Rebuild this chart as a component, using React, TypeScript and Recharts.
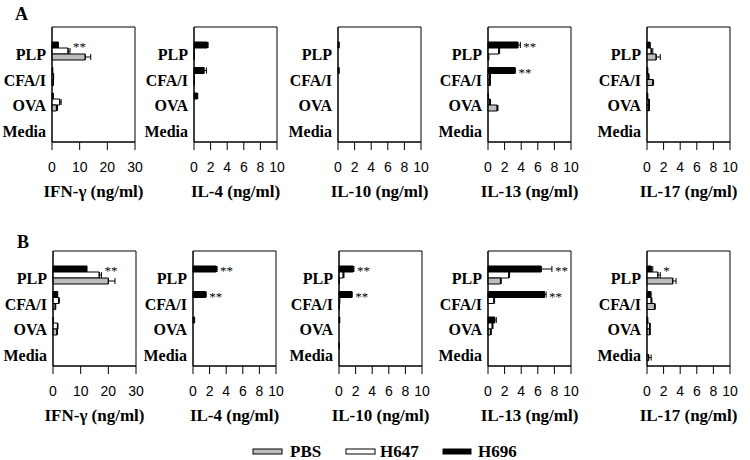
import React from "react"
import { BarChart, Bar, XAxis, YAxis, ErrorBar, LabelList, CartesianGrid } from "recharts"

const CATS = ["PLP", "CFA/I", "OVA", "Media"]
const TICKS_30 = [0, 10, 20, 30]
const TICKS_10 = [0, 2, 4, 6, 8, 10]

// ---- row A ----
const A_IFN_PBS   = [12.0, 0.4, 1.6, 0]
const A_IFN_PBS_E = [2.0, 0.1, 0.4, 0]
const A_IFN_647   = [5.8, 0.5, 2.8, 0]
const A_IFN_647_E = [0.7, 0.1, 0.5, 0]
const A_IFN_696   = [2.3, 0.3, 0.5, 0]
const A_IFN_696_E = [0, 0, 0, 0]
const A_IFN_SIG   = ["**", "", "", ""]

const A_IL4_PBS   = [0.05, 0.05, 0, 0]
const A_IL4_PBS_E = [0, 0, 0, 0]
const A_IL4_647   = [0.05, 0.05, 0, 0]
const A_IL4_647_E = [0, 0, 0, 0]
const A_IL4_696   = [1.6, 1.2, 0.4, 0]
const A_IL4_696_E = [0.1, 0.3, 0.05, 0]
const A_IL4_SIG   = ["", "", "", ""]

const A_IL10_PBS   = [0, 0, 0, 0]
const A_IL10_PBS_E = [0, 0, 0, 0]
const A_IL10_647   = [0, 0, 0, 0]
const A_IL10_647_E = [0, 0, 0, 0]
const A_IL10_696   = [0.15, 0.15, 0, 0]
const A_IL10_696_E = [0, 0, 0, 0]
const A_IL10_SIG   = ["", "", "", ""]

const A_IL13_PBS   = [0.1, 0.2, 1.1, 0]
const A_IL13_PBS_E = [0, 0.1, 0.1, 0]
const A_IL13_647   = [1.3, 0.2, 0.2, 0]
const A_IL13_647_E = [0.1, 0.1, 0.1, 0]
const A_IL13_696   = [3.6, 3.2, 0.05, 0]
const A_IL13_696_E = [0.3, 0.1, 0, 0]
const A_IL13_SIG   = ["**", "**", "", ""]

const A_IL17_PBS   = [1.1, 0.7, 0.2, 0]
const A_IL17_PBS_E = [0.5, 0.1, 0.1, 0]
const A_IL17_647   = [0.5, 0.15, 0.2, 0]
const A_IL17_647_E = [0.2, 0.1, 0.1, 0]
const A_IL17_696   = [0.3, 0.1, 0.1, 0]
const A_IL17_696_E = [0.1, 0, 0, 0]
const A_IL17_SIG   = ["", "", "", ""]

// ---- row B ----
const B_IFN_PBS   = [20.0, 0.8, 1.4, 0]
const B_IFN_PBS_E = [2.4, 0.2, 0.2, 0]
const B_IFN_647   = [16.7, 2.0, 1.6, 0]
const B_IFN_647_E = [0.8, 0.3, 0.2, 0]
const B_IFN_696   = [12.3, 1.7, 0.1, 0]
const B_IFN_696_E = [0, 0, 0, 0]
const B_IFN_SIG   = ["**", "", "", ""]

const B_IL4_PBS   = [0, 0, 0, 0]
const B_IL4_PBS_E = [0, 0, 0, 0]
const B_IL4_647   = [0, 0, 0, 0]
const B_IL4_647_E = [0, 0, 0, 0]
const B_IL4_696   = [2.8, 1.5, 0.2, 0]
const B_IL4_696_E = [0.1, 0.1, 0, 0]
const B_IL4_SIG   = ["**", "**", "", ""]

const B_IL10_PBS   = [0.05, 0.05, 0, 0]
const B_IL10_PBS_E = [0, 0, 0, 0]
const B_IL10_647   = [0.5, 0.1, 0, 0]
const B_IL10_647_E = [0.1, 0, 0, 0]
const B_IL10_696   = [1.7, 1.5, 0.1, 0.05]
const B_IL10_696_E = [0.1, 0.1, 0, 0]
const B_IL10_SIG   = ["**", "**", "", ""]

const B_IL13_PBS   = [1.5, 0, 0.3, 0]
const B_IL13_PBS_E = [0.1, 0, 0.1, 0]
const B_IL13_647   = [2.5, 0.7, 0.5, 0]
const B_IL13_647_E = [0.1, 0.1, 0.1, 0]
const B_IL13_696   = [6.4, 6.8, 0.8, 0]
const B_IL13_696_E = [1.3, 0.2, 0.2, 0]
const B_IL13_SIG   = ["**", "**", "", ""]

const B_IL17_PBS   = [3.1, 0.9, 0.3, 0.2]
const B_IL17_PBS_E = [0.4, 0.1, 0.1, 0.3]
const B_IL17_647   = [1.3, 0.5, 0.3, 0]
const B_IL17_647_E = [0.3, 0.1, 0.1, 0]
const B_IL17_696   = [0.5, 0.4, 0.1, 0]
const B_IL17_696_E = [0.2, 0.1, 0, 0]
const B_IL17_SIG   = ["*", "", "", ""]

const SERIF = "'Liberation Serif', 'Times New Roman', serif"
const SANS = "'Liberation Sans', Arial, sans-serif"
const GRAY = "#bdbdbd"

const ROW_TOP = [27, 251]
const PLOT_W = 83
const PLOT_H = 115
const Y_W = 60
const M_TOP = 5
const M_RIGHT = 25
const X_H = 62

const PANELS = [
  { row: 0, left: 52,  title: "IFN-γ (ng/ml)", max: 30, ticks: TICKS_30, pbs: A_IFN_PBS, pbsE: A_IFN_PBS_E, h647: A_IFN_647, h647E: A_IFN_647_E, h696: A_IFN_696, h696E: A_IFN_696_E, sig: A_IFN_SIG },
  { row: 0, left: 194, title: "IL-4 (ng/ml)",  max: 10, ticks: TICKS_10, pbs: A_IL4_PBS, pbsE: A_IL4_PBS_E, h647: A_IL4_647, h647E: A_IL4_647_E, h696: A_IL4_696, h696E: A_IL4_696_E, sig: A_IL4_SIG },
  { row: 0, left: 338, title: "IL-10 (ng/ml)", max: 10, ticks: TICKS_10, pbs: A_IL10_PBS, pbsE: A_IL10_PBS_E, h647: A_IL10_647, h647E: A_IL10_647_E, h696: A_IL10_696, h696E: A_IL10_696_E, sig: A_IL10_SIG },
  { row: 0, left: 488, title: "IL-13 (ng/ml)", max: 10, ticks: TICKS_10, pbs: A_IL13_PBS, pbsE: A_IL13_PBS_E, h647: A_IL13_647, h647E: A_IL13_647_E, h696: A_IL13_696, h696E: A_IL13_696_E, sig: A_IL13_SIG },
  { row: 0, left: 647, title: "IL-17 (ng/ml)", max: 10, ticks: TICKS_10, pbs: A_IL17_PBS, pbsE: A_IL17_PBS_E, h647: A_IL17_647, h647E: A_IL17_647_E, h696: A_IL17_696, h696E: A_IL17_696_E, sig: A_IL17_SIG },
  { row: 1, left: 53,  title: "IFN-γ (ng/ml)", max: 30, ticks: TICKS_30, pbs: B_IFN_PBS, pbsE: B_IFN_PBS_E, h647: B_IFN_647, h647E: B_IFN_647_E, h696: B_IFN_696, h696E: B_IFN_696_E, sig: B_IFN_SIG },
  { row: 1, left: 193, title: "IL-4 (ng/ml)",  max: 10, ticks: TICKS_10, pbs: B_IL4_PBS, pbsE: B_IL4_PBS_E, h647: B_IL4_647, h647E: B_IL4_647_E, h696: B_IL4_696, h696E: B_IL4_696_E, sig: B_IL4_SIG },
  { row: 1, left: 339, title: "IL-10 (ng/ml)", max: 10, ticks: TICKS_10, pbs: B_IL10_PBS, pbsE: B_IL10_PBS_E, h647: B_IL10_647, h647E: B_IL10_647_E, h696: B_IL10_696, h696E: B_IL10_696_E, sig: B_IL10_SIG },
  { row: 1, left: 488, title: "IL-13 (ng/ml)", max: 10, ticks: TICKS_10, pbs: B_IL13_PBS, pbsE: B_IL13_PBS_E, h647: B_IL13_647, h647E: B_IL13_647_E, h696: B_IL13_696, h696E: B_IL13_696_E, sig: B_IL13_SIG },
  { row: 1, left: 647, title: "IL-17 (ng/ml)", max: 10, ticks: TICKS_10, pbs: B_IL17_PBS, pbsE: B_IL17_PBS_E, h647: B_IL17_647, h647E: B_IL17_647_E, h696: B_IL17_696, h696E: B_IL17_696_E, sig: B_IL17_SIG },
]

type PanelDef = typeof PANELS[number]

const err = (e: number) => (e > 0 ? [0, e] : null)

function CatTick(p: any) {
  return (
    <text x={p.x} y={p.y + 4} dy="0.35em" textAnchor="end" fontFamily={SERIF} fontWeight="bold" fontSize={16} fill="#000">
      {p.payload.value}
    </text>
  )
}

// frame lines on the plot edges, so each panel gets a closed box
const frameH = ({ offset }: any) => [offset.top, offset.top + offset.height]
const frameV = ({ offset }: any) => [offset.left, offset.left + offset.width]

function Panel({ def }: { def: PanelDef }) {
  const data = CATS.map((cat, i) => ({
    cat,
    pbs: def.pbs[i], pbsE: err(def.pbsE[i]),
    h647: def.h647[i], h647E: err(def.h647E[i]),
    h696: def.h696[i], h696E: err(def.h696E[i]),
    sig: def.sig[i],
  }))

  // asterisks sit just past the end of the H696 / H647 bars
  const renderSig = (p: any) => {
    const vb = p.viewBox && p.viewBox.width !== undefined ? p.viewBox : p
    const i = p.index
    const txt = def.sig[i]
    const v = def.h696[i]
    if (!txt || !v || !vb.width) return null
    const k = vb.width / v
    const end = Math.max(v + def.h696E[i], def.h647[i] + def.h647E[i])
    return (
      <text x={vb.x + k * end + 3} y={vb.y + vb.height / 2 + 6} fontFamily={SERIF} fontSize={13} fill="#000">
        {txt}
      </text>
    )
  }

  const w = Y_W + PLOT_W + M_RIGHT
  const h = M_TOP + PLOT_H + X_H
  return (
    <div style={{ position: "absolute", left: def.left - Y_W, top: ROW_TOP[def.row] - M_TOP }}>
      <BarChart
        width={w}
        height={h}
        data={data}
        layout="vertical"
        barGap={0}
        margin={{ top: M_TOP, right: M_RIGHT, bottom: 0, left: 0 }}
      >
        <CartesianGrid
          stroke="#000"
          strokeWidth={1}
          horizontalCoordinatesGenerator={frameH}
          verticalCoordinatesGenerator={frameV}
        />
        <XAxis
          type="number"
          domain={[0, def.max]}
          ticks={def.ticks}
          interval={0}
          height={X_H}
          stroke="#000"
          tickSize={8}
          tickMargin={12}
          tick={{ fontSize: 14, fill: "#000", fontFamily: SANS }}
          label={{ value: def.title, position: "insideBottom", offset: 7, fontSize: 17, fontWeight: "bold", fontFamily: SERIF, fill: "#000" }}
        />
        <YAxis
          type="category"
          dataKey="cat"
          width={Y_W}
          stroke="#000"
          tickLine={false}
          tickSize={0}
          tickMargin={6}
          interval={0}
          padding={{ top: 11, bottom: 2 }}
          tick={<CatTick />}
        />
        <Bar dataKey="h696" fill="#000" stroke="#000" strokeWidth={1} barSize={6} isAnimationActive={false}>
          <ErrorBar dataKey="h696E" direction="x" width={3} stroke="#000" strokeWidth={1} />
          <LabelList dataKey="sig" content={renderSig} />
        </Bar>
        <Bar dataKey="h647" fill="#fff" stroke="#000" strokeWidth={1} barSize={6} isAnimationActive={false}>
          <ErrorBar dataKey="h647E" direction="x" width={3} stroke="#000" strokeWidth={1} />
        </Bar>
        <Bar dataKey="pbs" fill={GRAY} stroke="#000" strokeWidth={1} barSize={6} isAnimationActive={false}>
          <ErrorBar dataKey="pbsE" direction="x" width={3} stroke="#000" strokeWidth={1} />
        </Bar>
      </BarChart>
    </div>
  )
}

const LEGEND = [
  { name: "PBS", fill: GRAY, x: 253, w: 29, tx: 290 },
  { name: "H647", fill: "#fff", x: 346, w: 29, tx: 380 },
  { name: "H696", fill: "#000", x: 443, w: 28, tx: 478 },
]

export default function App() {
  return (
    <div style={{ position: "absolute", left: 0, top: 0, width: 750, height: 460, background: "#fff", overflow: "hidden" }}>
      {PANELS.map((p, i) => (
        <Panel key={i} def={p} />
      ))}
      <svg width={750} height={460} style={{ position: "absolute", left: 0, top: 0, pointerEvents: "none" }}>
        <text x={15} y={20} fontFamily={SERIF} fontWeight="bold" fontSize={18} fill="#000">A</text>
        <text x={17} y={248} fontFamily={SERIF} fontWeight="bold" fontSize={18} fill="#000">B</text>
        {LEGEND.map((l) => (
          <g key={l.name}>
            <rect x={l.x} y={449} width={l.w} height={5} fill={l.fill} stroke="#000" strokeWidth={1} />
            <text x={l.tx} y={457} fontFamily={SERIF} fontWeight="bold" fontSize={17} fill="#000">{l.name}</text>
          </g>
        ))}
      </svg>
    </div>
  )
}
